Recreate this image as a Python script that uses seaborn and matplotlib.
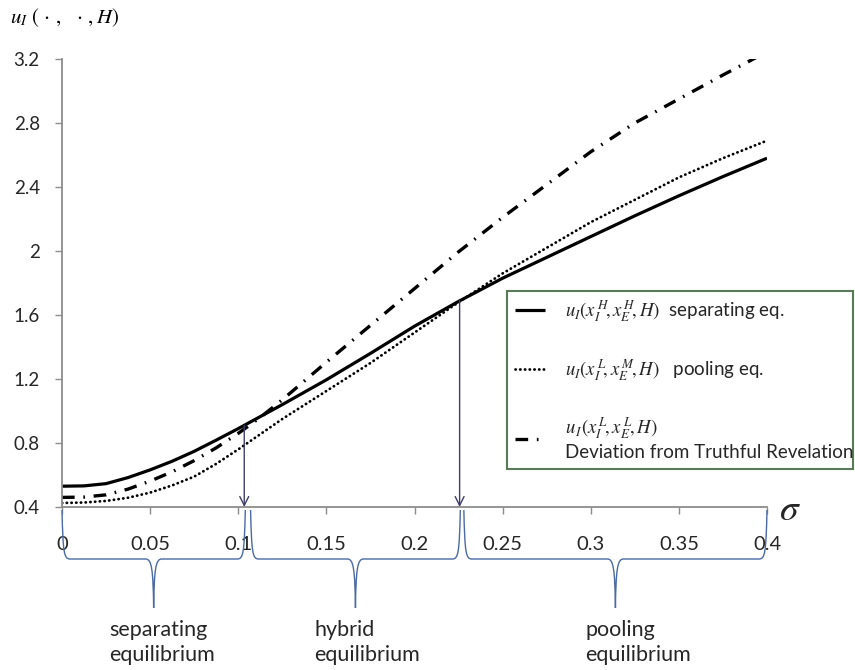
import numpy as np
import pandas as pd
import seaborn as sns
import matplotlib
import matplotlib.pyplot as plt
from matplotlib.path import Path
from matplotlib.patches import PathPatch

# ---------------- data ----------------
sigma = [0.0, 0.0125, 0.025, 0.0375, 0.05, 0.0625, 0.075, 0.0875, 0.1, 0.1125,
         0.125, 0.15, 0.175, 0.2, 0.225, 0.25, 0.275, 0.3, 0.325, 0.35,
         0.375, 0.4]
u_separating = [0.53, 0.532, 0.546, 0.584, 0.632, 0.686, 0.748, 0.818, 0.89, 0.965,
                1.04, 1.195, 1.36, 1.53, 1.685, 1.83, 1.96, 2.09, 2.22, 2.345,
                2.465, 2.58]
u_pooling = [0.425, 0.428, 0.438, 0.458, 0.49, 0.535, 0.59, 0.67, 0.76, 0.855,
             0.95, 1.125, 1.30, 1.49, 1.68, 1.86, 2.02, 2.18, 2.32, 2.46,
             2.58, 2.69]
u_deviation = [0.46, 0.462, 0.476, 0.512, 0.562, 0.62, 0.69, 0.77, 0.86, 0.96,
               1.07, 1.305, 1.535, 1.765, 1.995, 2.21, 2.415, 2.62, 2.80, 2.95,
               3.10, 3.245]

xticks = [0, 0.05, 0.1, 0.15, 0.2, 0.25, 0.3, 0.35, 0.4]
xtick_labels = ["0", "0.05", "0.1", "0.15", "0.2", "0.25", "0.3", "0.35", "0.4"]
yticks = [0.4, 0.8, 1.2, 1.6, 2.0, 2.4, 2.8, 3.2]
ytick_labels = ["0.4", "0.8", "1.2", "1.6", "2", "2.4", "2.8", "3.2"]

legend_labels = [
    r"$u_I(x_I^{\,H}\!,x_E^{\,H}\!,H)$  separating eq.",
    r"$u_I(x_I^{\,L}\!,x_E^{\,M}\!,H)$   pooling eq.",
    r"$u_{\,I}(x_I^{\,L}\!,x_E^{\,L}\!,H)$" + "\nDeviation from Truthful Revelation",
]

region_bounds = [(0.0, 0.104), (0.107, 0.226), (0.228, 0.4)]
region_labels = ["separating\nequilibrium", "hybrid\nequilibrium", "pooling\nequilibrium"]
region_label_x = [0.027, 0.143, 0.297]
arrow_x = [0.1034, 0.2256]

# ---------------- style ----------------
sns.set_style("white")
plt.rcParams["font.family"] = ["Lato", "DejaVu Sans"]
plt.rcParams["mathtext.fontset"] = "stix"

df = pd.DataFrame({"sigma": sigma, "sep": u_separating,
                   "pool": u_pooling, "dev": u_deviation})

W, H = 855, 670
fig = plt.figure(figsize=(W / 100, H / 100), dpi=100)
ax_left, ax_right, ax_top, ax_bottom = 62, 767, 59, 507
ax = fig.add_axes([ax_left / W, 1 - ax_bottom / H,
                   (ax_right - ax_left) / W, (ax_bottom - ax_top) / H])

handles = []
sns.lineplot(data=df, x="sigma", y="sep", ax=ax, color="black", lw=2.3,
             solid_capstyle="butt", solid_joinstyle="round")
handles.append(ax.lines[-1])
sns.lineplot(data=df, x="sigma", y="pool", ax=ax, color="black", lw=2.0,
             linestyle=(0, (0.1, 1.6)), dash_capstyle="round")
handles.append(ax.lines[-1])
sns.lineplot(data=df, x="sigma", y="dev", ax=ax, color="black", lw=2.4,
             linestyle=(0, (3.8, 2.6, 0.5, 2.6)), dash_capstyle="butt")
handles.append(ax.lines[-1])

ax.set_xlim(0, 0.4)
ax.set_ylim(0.4, 3.2)
ax.set_xticks(xticks)
ax.set_xticklabels(xtick_labels)
ax.set_yticks(yticks)
ax.set_yticklabels(ytick_labels)
ax.set_xlabel("")
ax.set_ylabel("")
for s in ["top", "right"]:
    ax.spines[s].set_visible(False)
for s in ["left", "bottom"]:
    ax.spines[s].set_color("#8c8c8c")
    ax.spines[s].set_linewidth(1.3)
ax.tick_params(axis="x", direction="out", length=5, width=1, color="#8c8c8c",
               pad=16, labelsize=14.5, labelcolor="#262626")
ax.tick_params(axis="y", direction="out", length=5, width=1, color="#8c8c8c",
               pad=11, labelsize=13.5, labelcolor="#262626")
ax.tick_params(bottom=True, left=True)

# arrows from the separating curve down to the axis
sep_at = np.interp(arrow_x, sigma, u_separating)
for xa, ya in zip(arrow_x, sep_at):
    ax.annotate("", xy=(xa, 0.4), xytext=(xa, ya),
                arrowprops=dict(arrowstyle="->", color="#3e3e6e", lw=1.0,
                                mutation_scale=16, shrinkA=0, shrinkB=0),
                annotation_clip=False)

# braces below the axis
px_x = (ax_right - ax_left) / 0.4
px_y = (ax_bottom - ax_top) / 2.8


def X(xd, dpx=0.0):
    return xd + dpx / px_x


def Y(off):
    return 0.4 - off / px_y


top, bar, tip, r = 3, 52, 101, 8
for (xa, xb) in region_bounds:
    xm = (xa + xb) / 2
    verts = [
        (X(xa), Y(top)),
        (X(xa, 1), Y(bar - 6)), (X(xa, 2), Y(bar)), (X(xa, r), Y(bar)),
        (X(xm, -r), Y(bar)),
        (X(xm, -2), Y(bar)), (X(xm, -0.5), Y(bar + 10)), (X(xm), Y(tip)),
        (X(xm, 0.5), Y(bar + 10)), (X(xm, 2), Y(bar)), (X(xm, r), Y(bar)),
        (X(xb, -r), Y(bar)),
        (X(xb, -2), Y(bar)), (X(xb, -1), Y(bar - 6)), (X(xb), Y(top)),
    ]
    codes = [Path.MOVETO,
             Path.CURVE4, Path.CURVE4, Path.CURVE4,
             Path.LINETO,
             Path.CURVE4, Path.CURVE4, Path.CURVE4,
             Path.CURVE4, Path.CURVE4, Path.CURVE4,
             Path.LINETO,
             Path.CURVE4, Path.CURVE4, Path.CURVE4]
    patch = PathPatch(Path(verts, codes), fill=False, edgecolor="#4a6aa5",
                      lw=1.0, clip_on=False)
    ax.add_patch(patch)

for lx, lab in zip(region_label_x, region_labels):
    ax.text(lx, Y(113), lab, ha="left", va="top", fontsize=15.5,
            color="#262626", linespacing=1.3, clip_on=False)

# axis titles
ax.text(X(0.4, 12), Y(2), r"$\sigma$", fontsize=27, ha="left", va="center",
        color="#262626", clip_on=False)
fig.text(10 / W, 1 - 18 / H, r"$u_I\ (\,\cdot\,,\ \ \cdot\,, H)$", fontsize=15,
         ha="left", va="center", color="black")

# legend
leg = ax.legend(handles, legend_labels, loc="upper left",
                bbox_to_anchor=((507 - ax_left) / (ax_right - ax_left),
                                (ax_bottom - 291) / (ax_bottom - ax_top),
                                (853 - 507) / (ax_right - ax_left), 0.0),
                mode="expand", borderaxespad=0, fontsize=13.5,
                handlelength=1.6, handletextpad=1.1, labelspacing=1.75,
                borderpad=0.4, frameon=True, fancybox=False)
leg.get_frame().set_edgecolor("#2f5a2f")
leg.get_frame().set_linewidth(1.5)
for t in leg.get_texts():
    t.set_color("#262626")

fig.savefig("out.png", dpi=100)
